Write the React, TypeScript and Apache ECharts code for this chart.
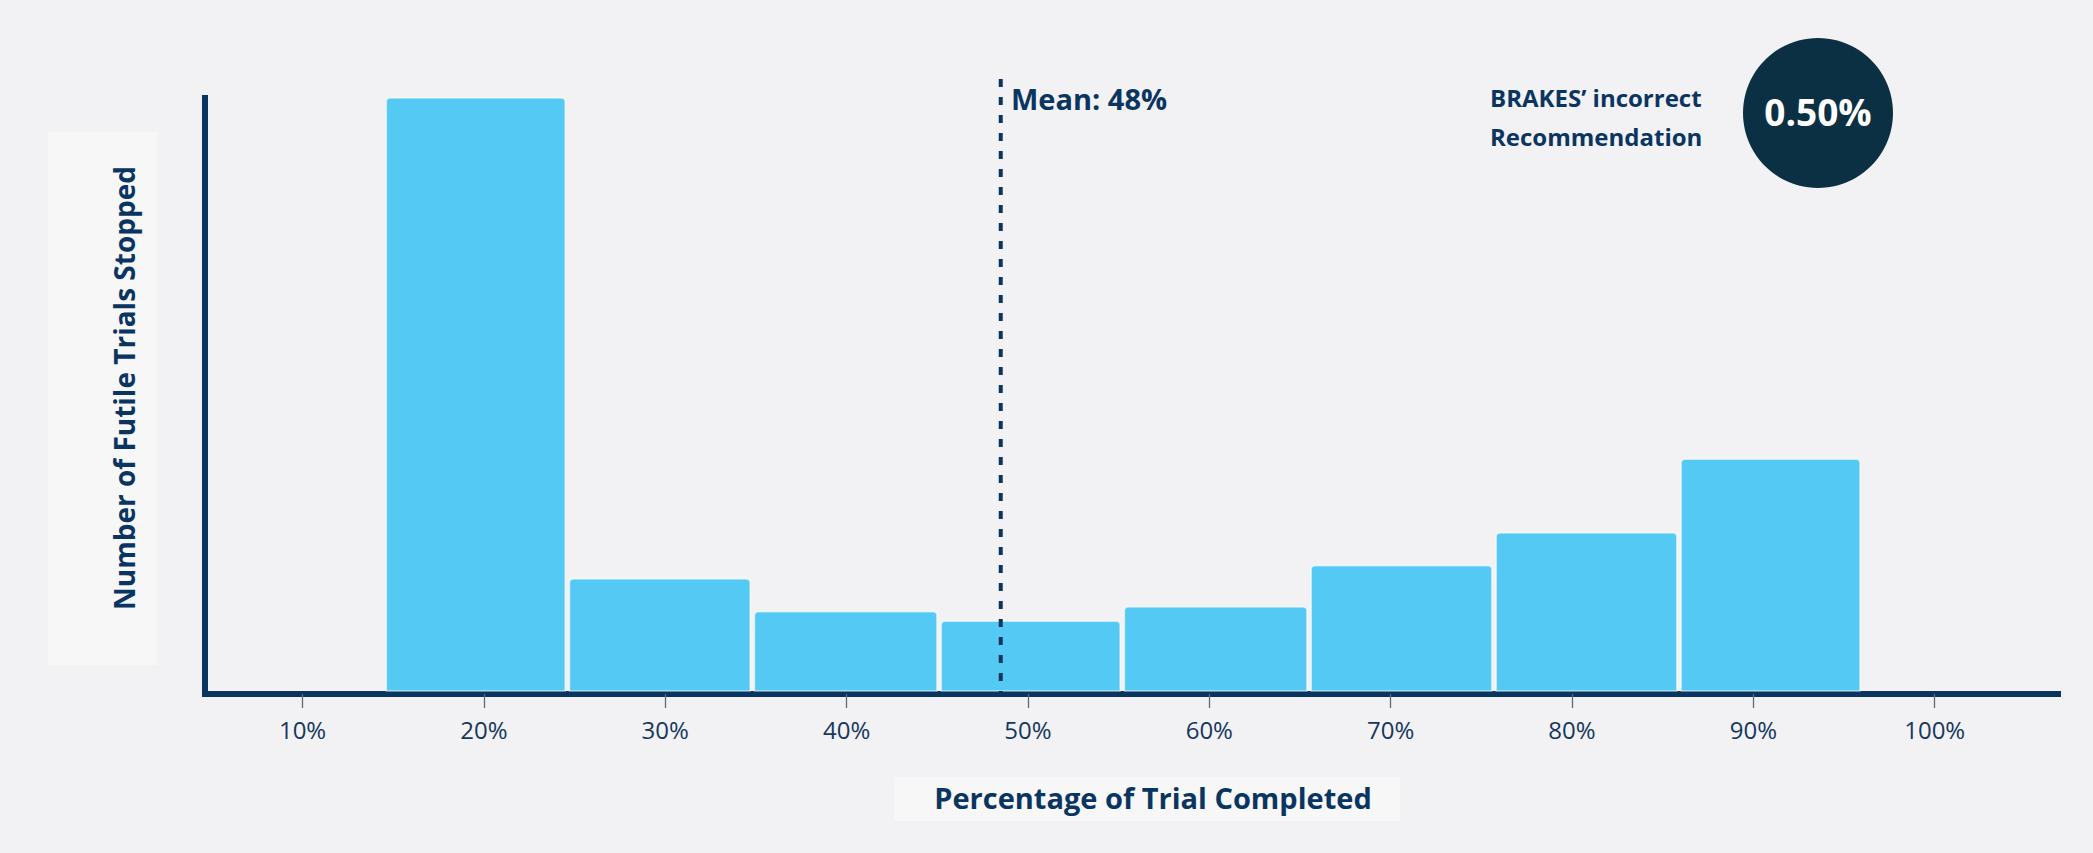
import React, { useEffect, useRef } from "react";
import * as echarts from "echarts";

// ---- data ----
// histogram bins (percentage of trial completed), edges as drawn
const binStarts = [14.5, 24.6, 34.8, 45.1, 55.2, 65.5, 75.7, 85.9];
const binEnds = [24.6, 34.8, 45.1, 55.2, 65.5, 75.7, 85.9, 96.0];
const stoppedCounts = [100, 19.3, 13.8, 12.2, 14.6, 21.5, 27.0, 39.4];
const tickValues = [10, 20, 30, 40, 50, 60, 70, 80, 90, 100];
const meanLineAt = 48.5;
const meanText = "Mean: 48%";
const xTitle = "Percentage of Trial Completed";
const yTitle = "Number of Futile Trials Stopped";
const noteLines = ["BRAKES\u2019 incorrect", "Recommendation"];
const noteValue = "0.50%";

const NAVY = "#0b3561";
const BAR = "#53c9f3";
const BG = "#f2f2f4";
const BOX = "#f7f7f8";
const FONT = "'Open Sans', sans-serif";

export default function App() {
  const ref = useRef<HTMLDivElement>(null);
  useEffect(() => {
    if (!ref.current) return;
    const chart = echarts.init(ref.current, null, { renderer: "svg" });
    chart.setOption({
      animation: false,
      backgroundColor: BG,
      grid: { left: 205, right: 35, top: 98, bottom: 159, containLabel: false },
      xAxis: {
        type: "value",
        min: 4.62,
        max: 106.8,
        splitLine: { show: false },
        axisLine: { show: true, lineStyle: { color: NAVY, width: 6, cap: "square" } },
        axisTick: {
          show: true,
          customValues: tickValues,
          length: 14,
          lineStyle: { color: "#5a6a7e", width: 1.3 },
        },
        axisLabel: {
          show: true,
          customValues: tickValues,
          formatter: (v: number) => v + "%",
          margin: 23,
          color: "#17375e",
          fontSize: 24,
          fontFamily: FONT,
        },
      },
      yAxis: {
        type: "value",
        min: 0,
        max: 100,
        splitLine: { show: false },
        axisTick: { show: false },
        axisLabel: { show: false },
        axisLine: { show: true, lineStyle: { color: NAVY, width: 6, cap: "square" } },
      },
      series: [
        {
          type: "custom",
          data: binStarts.map((s, i) => [s, binEnds[i], stoppedCounts[i]]),
          encode: { x: [0, 1], y: 2 },
          renderItem: (params: any, api: any) => {
            const s = api.value(0);
            const e = api.value(1);
            const v = api.value(2);
            const p0 = api.coord([s, 0]);
            const p1 = api.coord([e, v]);
            const gap = 2.2;
            return {
              type: "rect",
              shape: {
                x: p0[0] + gap,
                y: p1[1],
                width: p1[0] - p0[0] - 2 * gap,
                height: p0[1] - 3 - p1[1],
                r: [4, 4, 0, 0],
              },
              style: { fill: BAR, stroke: "rgba(255,255,255,0.55)", lineWidth: 1.5 },
            };
          },
          z: 1,
        },
        {
          type: "line",
          data: [
            [meanLineAt, 103.2],
            [meanLineAt, -0.5],
          ],
          clip: false,
          symbol: "none",
          lineStyle: { color: NAVY, width: 4, type: [8, 10] },
          z: 5,
        },
      ],
      graphic: [
        {
          type: "rect",
          shape: { x: 48, y: 132, width: 109, height: 533 },
          style: { fill: BOX },
          z: 0,
        },
        {
          type: "text",
          x: 124,
          y: 388,
          rotation: Math.PI / 2,
          style: {
            text: yTitle,
            fill: NAVY,
            font: `bold 28px ${FONT}`,
            align: "center",
            verticalAlign: "middle",
          },
        },
        {
          type: "rect",
          shape: { x: 894, y: 777, width: 506, height: 44 },
          style: { fill: BOX },
          z: 0,
        },
        {
          type: "text",
          x: 1153,
          y: 797,
          style: {
            text: xTitle,
            fill: NAVY,
            font: `bold 29px ${FONT}`,
            align: "center",
            verticalAlign: "middle",
          },
        },
        {
          type: "text",
          x: 1011,
          y: 98,
          style: {
            text: meanText,
            fill: NAVY,
            font: `bold 29px ${FONT}`,
            align: "left",
            verticalAlign: "middle",
          },
        },
        {
          type: "text",
          x: 1490,
          y: 97,
          style: {
            text: noteLines[0],
            fill: NAVY,
            font: `bold 24px ${FONT}`,
            align: "left",
            verticalAlign: "middle",
          },
        },
        {
          type: "text",
          x: 1490,
          y: 136,
          style: {
            text: noteLines[1],
            fill: NAVY,
            font: `bold 24px ${FONT}`,
            align: "left",
            verticalAlign: "middle",
          },
        },
        {
          type: "circle",
          shape: { cx: 1818, cy: 113, r: 75 },
          style: { fill: "#0b3044" },
        },
        {
          type: "text",
          x: 1818,
          y: 111,
          style: {
            text: noteValue,
            fill: "#ffffff",
            font: `bold 37px ${FONT}`,
            align: "center",
            verticalAlign: "middle",
          },
        },
      ],
    });
    return () => chart.dispose();
  }, []);
  return (
    <div
      ref={ref}
      style={{ position: "fixed", left: 0, top: 0, width: 2093, height: 853, background: BG }}
    />
  );
}
